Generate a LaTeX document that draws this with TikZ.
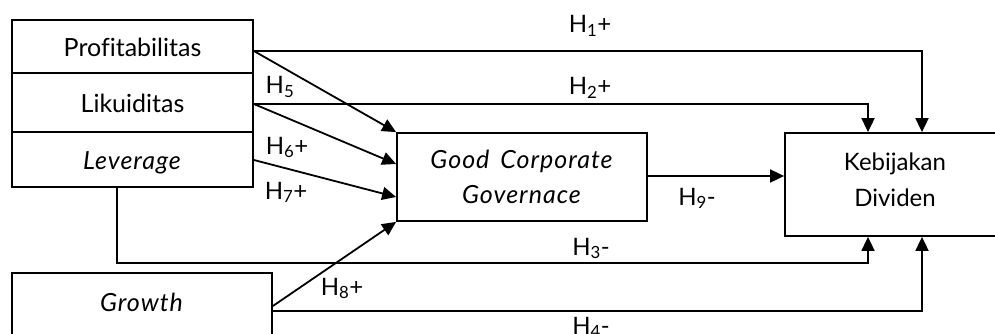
\documentclass[tikz,border=0pt]{standalone}
\usepackage{fontspec}
\setmainfont{Lato}[Ligatures=CommonOff,ItalicFeatures={LetterSpace=4,WordSpace=1.6}]
\usetikzlibrary{arrows.meta}
\begin{document}
\begin{tikzpicture}[x=1pt,y=-1pt,>={Triangle[length=14pt,width=13pt]}]
	\tikzset{boxtext/.style={inner sep=0pt, font=\fontsize{25}{35.5}\selectfont, align=center},
		varbox/.style={boxtext, draw, line width=1.8pt},
		stackbox/.style={varbox, minimum width=241pt, text height=20pt, text depth=0pt},
		hyp/.style={anchor=base, inner sep=0pt, font=\fontsize{24}{29}\selectfont},
		link/.style={->, line width=1.8pt}}
	\useasboundingbox (0,0) rectangle (995,334);
	\clip (0,0) rectangle (995,334);
	\node[stackbox, minimum height=53pt] (prof) at (132.5,46.5) {Profitabilitas};
	\node[stackbox, minimum height=59pt] (liku) at (132.5,102.5) {Likuiditas};
	\node[stackbox, minimum height=55pt] (lev) at (132.5,159.5) {\textit{Leverage}};
	\node[varbox, minimum width=260pt, minimum height=72pt] (grow) at (142,309) {};
	\node[boxtext] (growtxt) at (142,302) {\textit{Growth}};
	\node[varbox, minimum width=250pt, minimum height=88pt] (gcg) at (522,177) {\textit{Good Corporate}\\\textit{Governace}};
	\node[varbox, minimum width=220pt, minimum height=103pt] (kd) at (895,184.5) {};
	\node[boxtext, font=\fontsize{24}{35.5}\selectfont] (kdtxt) at ([yshift=5pt]kd.center) {Kebijakan\\Dividen};
	\coordinate (h3turn) at (117,263);
	\coordinate (h9) at ([yshift=1pt]gcg.east);
	\draw[link] ([yshift=-4.5pt]prof.east) -| ([xshift=27pt]kd.north);
	\draw[link] ([yshift=-1.5pt]liku.east) -| ([xshift=-27pt]kd.north);
	\draw[link] ([xshift=-15.5pt]lev.south) -- (h3turn) -| ([xshift=-27pt]kd.south);
	\draw[link] ([yshift=-2pt]grow.east) -| ([xshift=27pt]kd.south);
	\draw[link] ([yshift=-4.5pt]prof.east) -- (gcg.north west);
	\draw[link] ([yshift=-1.5pt]liku.east) -- ([yshift=13pt]gcg.west);
	\draw[link] ([yshift=-0.5pt]lev.east) -- ([yshift=-20pt]gcg.west);
	\draw[link] ([yshift=3pt]grow.east) -- (gcg.south west);
	\draw[link] (h9) -- (h9 -| kd.west);
	\node[hyp] (h1) at (590,33) {H\textsubscript{1}+};
	\node[hyp] (h2) at (590,95) {H\textsubscript{2}+};
	\node[hyp] (h3) at (591,255) {H\textsubscript{3}-};
	\node[hyp] (h4) at (591,334) {H\textsubscript{4}-};
	\node[hyp] (h5) at (280,94) {H\textsubscript{5}};
	\node[hyp] (h6) at (287,154) {H\textsubscript{6}+};
	\node[hyp] (h7) at (286,199) {H\textsubscript{7}+};
	\node[hyp] (h8) at (342,295) {H\textsubscript{8}+};
	\node[hyp] (h9lab) at (697,205) {H\textsubscript{9}-};
\end{tikzpicture}
\end{document}
